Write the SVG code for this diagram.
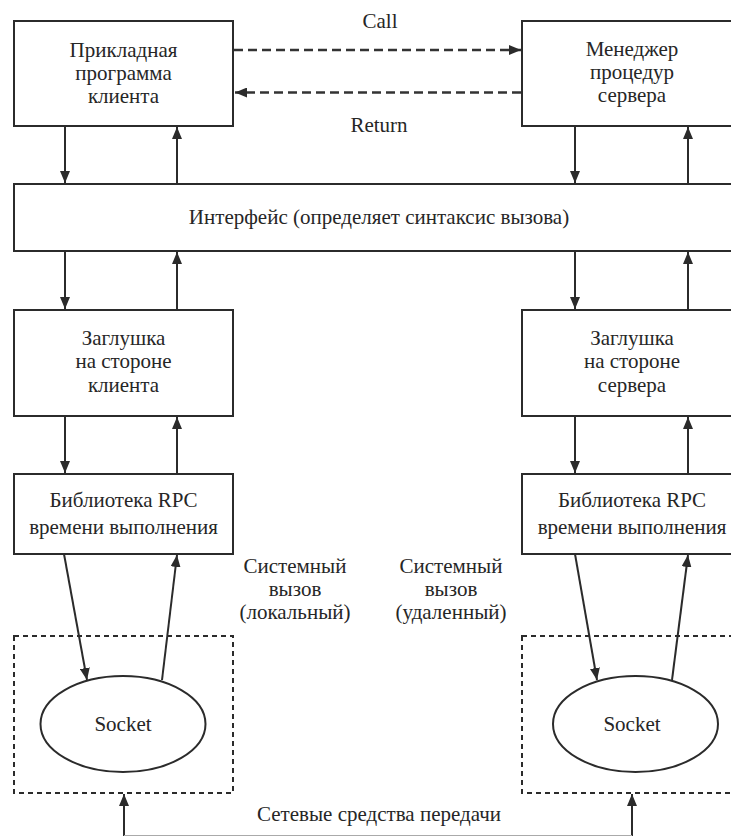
<svg xmlns="http://www.w3.org/2000/svg" width="731" height="836" viewBox="0 0 731 836">
  <style>
    .box { fill: #fff; stroke: #2b2b2b; stroke-width: 2; }
    .dot { fill: none; stroke: #2b2b2b; stroke-width: 2; stroke-dasharray: 5 4; }
    .ln { fill: none; stroke: #2b2b2b; stroke-width: 2; }
    .dash { fill: none; stroke: #333; stroke-width: 2.5; stroke-dasharray: 9 5; }
    .t { font-family: "Liberation Serif", Tinos, "Times New Roman", serif; font-size: 21px; fill: #262626; text-anchor: middle; }
  </style>
  <defs>
    <marker id="ah" viewBox="0 0 12 10" refX="12" refY="5" markerWidth="12" markerHeight="10" markerUnits="userSpaceOnUse" orient="auto">
      <path d="M0,0 L12,5 L0,10 Z" fill="#2b2b2b"/>
    </marker>
  </defs>
  <rect width="731" height="836" fill="#fff"/>

  <!-- client application -->
  <g id="client-app">
    <rect class="box" x="14" y="21" width="219" height="105"/>
    <text class="t" x="123.5" y="57">Прикладная</text>
    <text class="t" x="123.5" y="80">программа</text>
    <text class="t" x="123.5" y="103">клиента</text>
  </g>

  <!-- server procedure manager -->
  <g id="server-manager">
    <rect class="box" x="522" y="21" width="219" height="105"/>
    <text class="t" x="632" y="56">Менеджер</text>
    <text class="t" x="632" y="79">процедур</text>
    <text class="t" x="632" y="102">сервера</text>
  </g>

  <!-- interface -->
  <g id="interface">
    <rect class="box" x="14" y="184" width="727" height="67"/>
    <text class="t" x="379" y="224">Интерфейс (определяет синтаксис вызова)</text>
  </g>

  <!-- stubs -->
  <g id="client-stub">
    <rect class="box" x="14" y="310" width="219" height="106"/>
    <text class="t" x="123.5" y="345">Заглушка</text>
    <text class="t" x="123.5" y="368">на стороне</text>
    <text class="t" x="123.5" y="392">клиента</text>
  </g>
  <g id="server-stub">
    <rect class="box" x="522" y="310" width="219" height="106"/>
    <text class="t" x="632" y="345">Заглушка</text>
    <text class="t" x="632" y="368">на стороне</text>
    <text class="t" x="632" y="392">сервера</text>
  </g>

  <!-- RPC runtime libraries -->
  <g id="client-runtime">
    <rect class="box" x="14" y="474" width="219" height="80"/>
    <text class="t" x="123.5" y="507">Библиотека RPC</text>
    <text class="t" x="123.5" y="534">времени выполнения</text>
  </g>
  <g id="server-runtime">
    <rect class="box" x="522" y="474" width="219" height="80"/>
    <text class="t" x="632" y="507">Библиотека RPC</text>
    <text class="t" x="632" y="534">времени выполнения</text>
  </g>

  <!-- sockets inside dotted host boundaries -->
  <g id="client-socket">
    <rect class="dot" x="14" y="636" width="219" height="157"/>
    <ellipse class="ln" cx="123" cy="724" rx="82.5" ry="48"/>
    <text class="t" x="123" y="731">Socket</text>
  </g>
  <g id="server-socket">
    <rect class="dot" x="522" y="636" width="219" height="157"/>
    <ellipse class="ln" cx="635.5" cy="724" rx="82.5" ry="48"/>
    <text class="t" x="632" y="731">Socket</text>
  </g>

  <!-- labels -->
  <g id="labels">
    <text class="t" x="380" y="28">Call</text>
    <text class="t" x="379" y="132">Return</text>
    <text class="t" x="295" y="573">Системный</text>
    <text class="t" x="295" y="596">вызов</text>
    <text class="t" x="295" y="619">(локальный)</text>
    <text class="t" x="451" y="573">Системный</text>
    <text class="t" x="451" y="596">вызов</text>
    <text class="t" x="451" y="619">(удаленный)</text>
    <text class="t" x="379" y="821">Сетевые средства передачи</text>
  </g>

  <!-- connectors -->
  <g id="connectors">
    <line class="dash" x1="234" y1="50" x2="521" y2="50" marker-end="url(#ah)"/>
    <line class="dash" x1="521" y1="92.5" x2="235" y2="92.5" marker-end="url(#ah)"/>

    <line class="ln" x1="65" y1="126" x2="65" y2="183" marker-end="url(#ah)"/>
    <line class="ln" x1="177" y1="184" x2="177" y2="127" marker-end="url(#ah)"/>
    <line class="ln" x1="575" y1="126" x2="575" y2="183" marker-end="url(#ah)"/>
    <line class="ln" x1="688" y1="184" x2="688" y2="127" marker-end="url(#ah)"/>

    <line class="ln" x1="65" y1="251" x2="65" y2="309" marker-end="url(#ah)"/>
    <line class="ln" x1="177" y1="310" x2="177" y2="252" marker-end="url(#ah)"/>
    <line class="ln" x1="575" y1="251" x2="575" y2="309" marker-end="url(#ah)"/>
    <line class="ln" x1="688" y1="310" x2="688" y2="252" marker-end="url(#ah)"/>

    <line class="ln" x1="65" y1="416" x2="65" y2="473" marker-end="url(#ah)"/>
    <line class="ln" x1="177" y1="474" x2="177" y2="417" marker-end="url(#ah)"/>
    <line class="ln" x1="575" y1="416" x2="575" y2="473" marker-end="url(#ah)"/>
    <line class="ln" x1="688" y1="474" x2="688" y2="417" marker-end="url(#ah)"/>

    <line class="ln" x1="64" y1="554" x2="87" y2="680" marker-end="url(#ah)"/>
    <line class="ln" x1="162" y1="680" x2="177" y2="555" marker-end="url(#ah)"/>
    <line class="ln" x1="575" y1="554" x2="597" y2="680" marker-end="url(#ah)"/>
    <line class="ln" x1="672" y1="680" x2="688" y2="555" marker-end="url(#ah)"/>

    <line class="ln" x1="124" y1="836" x2="124" y2="794" marker-end="url(#ah)"/>
    <line class="ln" x1="632" y1="836" x2="632" y2="794" marker-end="url(#ah)"/>
    <line x1="124" y1="835.5" x2="632" y2="835.5" stroke="#aaa" stroke-width="1"/>
  </g>
</svg>
